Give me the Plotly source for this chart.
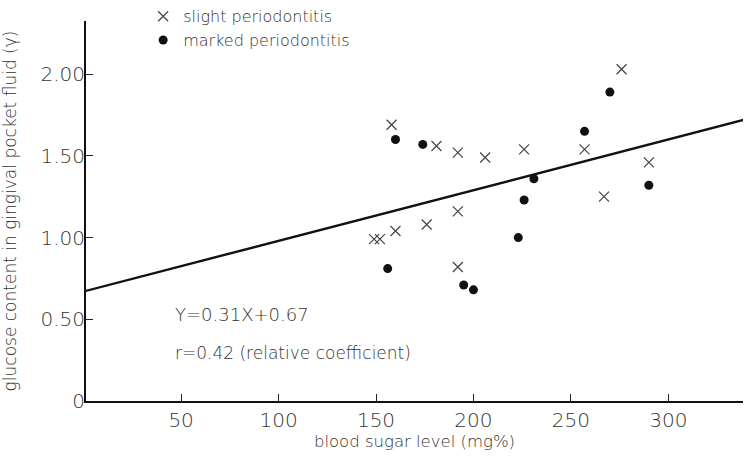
import plotly.graph_objects as go

# slight periodontitis (crosses)
slight_x = [158, 181, 192, 206, 226, 192, 176, 160, 149, 152, 192, 276, 257, 290, 267]
slight_y = [1.69, 1.56, 1.52, 1.49, 1.54, 1.16, 1.08, 1.04, 0.99, 0.99, 0.82, 2.03, 1.54, 1.46, 1.25]

# marked periodontitis (dots)
marked_x = [160, 174, 231, 226, 223, 156, 195, 200, 270, 257, 290]
marked_y = [1.60, 1.57, 1.36, 1.23, 1.00, 0.81, 0.71, 0.68, 1.89, 1.65, 1.32]

# regression line Y = a + bX
fit_intercept = 0.67
fit_slope = 0.0031
fit_x = [0, 350]
fit_y = [fit_intercept + fit_slope * v for v in fit_x]

x_ticks = [50, 100, 150, 200, 250, 300]
y_ticks = [0, 0.5, 1.0, 1.5, 2.0]
y_tick_text = ["0", "0.50", "1.00", "1.50", "2.00"]

FONT = "DejaVu Sans"
W = 200
TXT = "#333333"

fig = go.Figure()
fig.add_trace(go.Scatter(
    x=fit_x, y=fit_y, mode="lines",
    line=dict(color="#111", width=2.4),
    showlegend=False, hoverinfo="skip"))
fig.add_trace(go.Scatter(
    x=slight_x, y=slight_y, mode="markers", name="slight periodontitis",
    marker=dict(symbol="x-thin-open", size=10, color="#444",
                line=dict(width=1.2, color="#444"))))
fig.add_trace(go.Scatter(
    x=marked_x, y=marked_y, mode="markers", name="marked periodontitis",
    marker=dict(symbol="circle", size=9, color="#111")))

fig.add_annotation(x=46, y=0.53, xref="x", yref="y", xanchor="left", yanchor="middle",
                   text="Y=0.31X+0.67", showarrow=False,
                   font=dict(family=FONT, size=18, color=TXT, weight=W))
fig.add_annotation(x=46, y=0.295, xref="x", yref="y", xanchor="left", yanchor="middle",
                   text="r=0.42 (relative coefficient)", showarrow=False,
                   font=dict(family=FONT, size=17, color=TXT, weight=W))

fig.update_layout(
    width=749, height=456,
    margin=dict(l=86, r=6, t=21, b=55, autoexpand=False),
    paper_bgcolor="white", plot_bgcolor="white",
    font=dict(family=FONT, color=TXT, weight=W),
    legend=dict(x=0.087, y=1.057, xanchor="left", yanchor="top",
                bgcolor="rgba(0,0,0,0)", font=dict(size=16, color=TXT, weight=W),
                itemwidth=30, tracegroupgap=0),
    xaxis=dict(range=[1.2, 338.3], tickvals=x_ticks, ticks="inside", ticklen=7,
               tickwidth=1.3, tickcolor="#222", showline=True, linecolor="#111",
               linewidth=2, showgrid=False, zeroline=False, automargin=False,
               tickfont=dict(size=20, color=TXT, weight=W),
               title=dict(text="blood sugar level (mg%)",
                          font=dict(size=16.5, color=TXT, weight=W), standoff=4)),
    yaxis=dict(range=[0, 2.325], tickvals=y_ticks, ticktext=y_tick_text,
               ticks="inside", ticklen=7, tickwidth=1.3, tickcolor="#222",
               showline=True, linecolor="#111", linewidth=2, showgrid=False,
               zeroline=False, automargin=False, ticklabelstandoff=-5,
               tickfont=dict(size=20, color=TXT, weight=W),
               title=dict(text="glucose content in gingival pocket fluid (γ)",
                          font=dict(size=17, color=TXT, weight=W), standoff=20)),
)

fig.write_html("out.html", post_script="document.body.style.margin='0';",
               config={"displayModeBar": False})
